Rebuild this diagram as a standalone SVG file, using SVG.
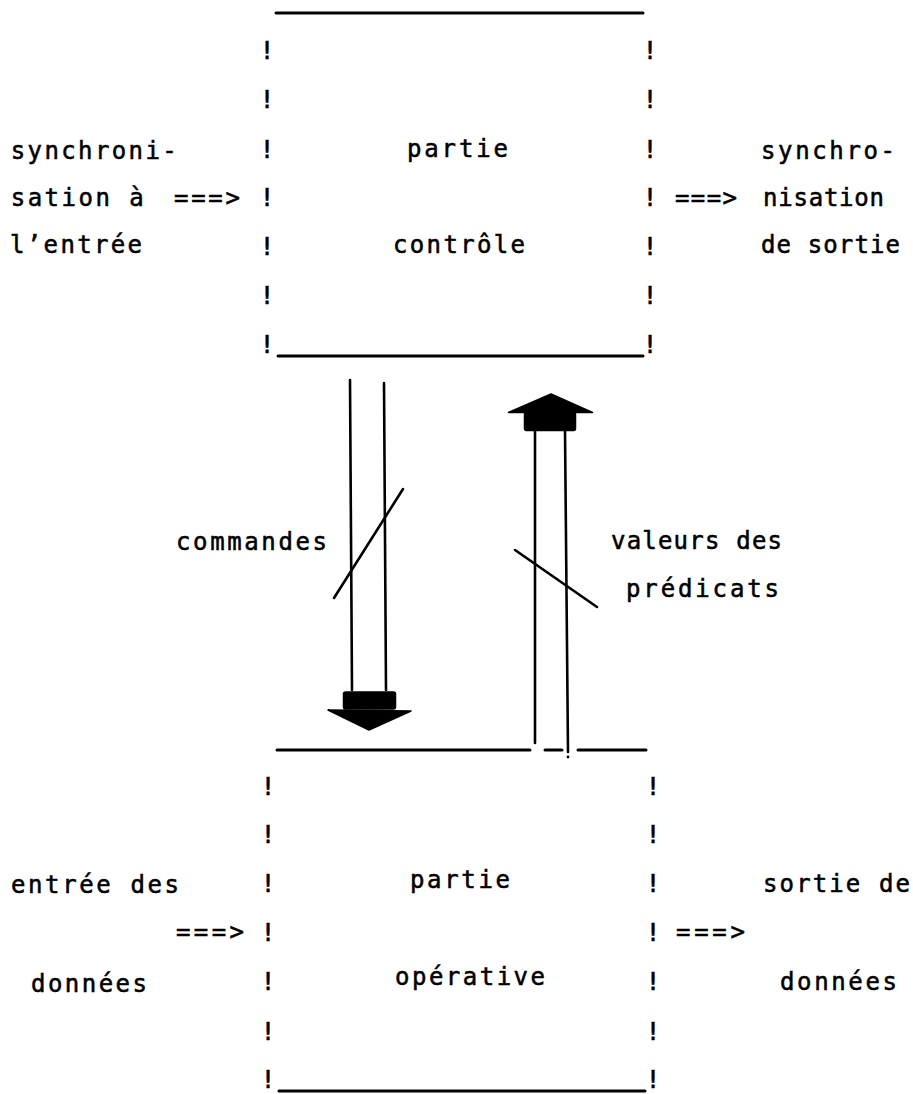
<svg xmlns="http://www.w3.org/2000/svg" width="913" height="1094" viewBox="0 0 913 1094">
  <style>
    .t { font-family: "DejaVu Sans Mono", "Liberation Mono", monospace; font-size: 24px; fill: #000; stroke: #000; stroke-width: 0.55; }
    .bang { font-family: "DejaVu Sans Mono", "Liberation Mono", monospace; font-size: 25px; fill: #000; stroke: #000; stroke-width: 0.6; text-anchor: middle; }
    .edge { stroke: #000; stroke-width: 3; stroke-linecap: round; fill: none; }
    .wire { stroke: #000; stroke-width: 2.6; stroke-linecap: round; fill: none; }
    .head { fill: #000; stroke: #000; stroke-width: 1.5; stroke-linejoin: round; }
  </style>

  <!-- control unit -->
  <g id="partie-controle">
    <line class="edge" x1="276" y1="13" x2="643" y2="13"/>
    <line class="edge" x1="278" y1="356" x2="643" y2="356"/>
    <g class="bang">
      <text x="267" y="59">!</text>
      <text x="267" y="108">!</text>
      <text x="267" y="158">!</text>
      <text x="267" y="206">!</text>
      <text x="267" y="255">!</text>
      <text x="267" y="304">!</text>
      <text x="267" y="353">!</text>
      <text x="650" y="59">!</text>
      <text x="650" y="108">!</text>
      <text x="650" y="158">!</text>
      <text x="650" y="206">!</text>
      <text x="650" y="255">!</text>
      <text x="650" y="304">!</text>
      <text x="650" y="353">!</text>
    </g>
    <text class="t" x="407" y="157" textLength="101" lengthAdjust="spacing">partie</text>
    <text class="t" x="393" y="253" textLength="132" lengthAdjust="spacing">contrôle</text>
  </g>

  <!-- input synchronisation -->
  <g id="sync-entree">
    <text class="t" x="10.7" y="159" textLength="166" lengthAdjust="spacing">synchroni-</text>
    <text class="t" x="10.7" y="206" textLength="133" lengthAdjust="spacing">sation à</text>
    <text class="t" x="174" y="206" textLength="66" lengthAdjust="spacing">===&gt;</text>
    <text class="t" x="10" y="253" textLength="132" lengthAdjust="spacing">l’entrée</text>
  </g>

  <!-- output synchronisation -->
  <g id="sync-sortie">
    <text class="t" x="675" y="206" textLength="62" lengthAdjust="spacing">===&gt;</text>
    <text class="t" x="761" y="159" textLength="134" lengthAdjust="spacing">synchro-</text>
    <text class="t" x="763" y="206" textLength="121" lengthAdjust="spacing">nisation</text>
    <text class="t" x="761" y="253" textLength="139" lengthAdjust="spacing">de sortie</text>
  </g>

  <!-- operative unit -->
  <g id="partie-operative">
    <line class="edge" x1="277" y1="750" x2="530" y2="750"/>
    <line class="edge" x1="545" y1="750" x2="562" y2="750"/>
    <line class="edge" x1="578" y1="750" x2="646" y2="750"/>
    <line class="edge" x1="279" y1="1091" x2="645" y2="1091"/>
    <g class="bang">
      <text x="268" y="795">!</text>
      <text x="268" y="843">!</text>
      <text x="268" y="892">!</text>
      <text x="268" y="941">!</text>
      <text x="268" y="990">!</text>
      <text x="268" y="1040">!</text>
      <text x="268" y="1088">!</text>
      <text x="653" y="795">!</text>
      <text x="653" y="843">!</text>
      <text x="653" y="892">!</text>
      <text x="653" y="941">!</text>
      <text x="653" y="990">!</text>
      <text x="653" y="1040">!</text>
      <text x="653" y="1088">!</text>
    </g>
    <text class="t" x="410" y="888" textLength="100" lengthAdjust="spacing">partie</text>
    <text class="t" x="395" y="985" textLength="150" lengthAdjust="spacing">opérative</text>
  </g>

  <!-- data input -->
  <g id="entree-donnees">
    <text class="t" x="11" y="893" textLength="168" lengthAdjust="spacing">entrée des</text>
    <text class="t" x="176" y="940" textLength="68" lengthAdjust="spacing">===&gt;</text>
    <text class="t" x="31" y="992" textLength="116" lengthAdjust="spacing">données</text>
  </g>

  <!-- data output -->
  <g id="sortie-donnees">
    <text class="t" x="676" y="940" textLength="69" lengthAdjust="spacing">===&gt;</text>
    <text class="t" x="763" y="892" textLength="147" lengthAdjust="spacing">sortie de</text>
    <text class="t" x="780" y="990" textLength="117" lengthAdjust="spacing">données</text>
  </g>

  <!-- buses between the two units -->
  <g id="connectors">
    <!-- commands: control to operative -->
    <g id="bus-commandes">
      <line class="wire" x1="350" y1="380" x2="352" y2="690"/>
      <line class="wire" x1="384" y1="383" x2="386" y2="690"/>
      <rect class="head" x="343.5" y="692" width="52" height="17" rx="2"/>
      <polygon class="head" points="328,710 411,711 369,730"/>
      <line class="wire" x1="334" y1="598" x2="403" y2="489"/>
      <text class="t" x="176" y="550" textLength="151" lengthAdjust="spacing">commandes</text>
    </g>
    <!-- predicate values: operative to control -->
    <g id="bus-predicats">
      <polygon class="head" points="508.5,412.5 592.5,412.5 551,394"/>
      <rect class="head" x="524.5" y="412" width="51" height="18.5" rx="2"/>
      <line class="wire" x1="535" y1="431" x2="535" y2="743"/>
      <line class="wire" x1="565" y1="431" x2="568" y2="752"/>
      <circle cx="568" cy="757" r="1.4" fill="#000"/>
      <line class="wire" x1="515" y1="550" x2="597" y2="607"/>
      <text class="t" x="611" y="549" textLength="171" lengthAdjust="spacing">valeurs des</text>
      <text class="t" x="626" y="597" textLength="153" lengthAdjust="spacing">prédicats</text>
    </g>
  </g>
</svg>
